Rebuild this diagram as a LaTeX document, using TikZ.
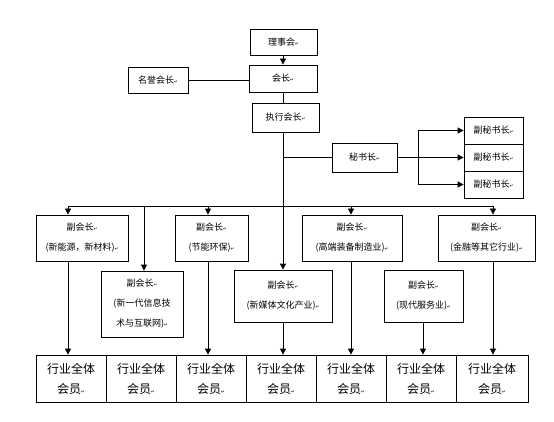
\documentclass[tikz,border=0pt]{standalone}
\usepackage{fontspec}
\setmainfont{Noto Sans CJK SC}
\newfontfamily\cjk{Noto Sans CJK SC}
\newfontfamily\dejavu{DejaVu Sans}
\usetikzlibrary{arrows.meta}
\newcommand\parmark{{\dejavu\fontsize{4.5}{5}\selectfont ↵}}
\tikzset{
  bx/.style={draw, line width=0.8pt, inner sep=0pt, align=center,
    font=\cjk\fontsize{9}{20}\selectfont},
  mem/.style={bx, minimum height=47pt, font=\cjk\fontsize{12}{20}\selectfont},
  arr/.style={line width=0.8pt, -{Triangle[width=6pt,length=6pt]}},
  ln/.style={line width=0.8pt}
}
\begin{document}
\begin{tikzpicture}[x=1pt,y=-1pt]
\useasboundingbox (0,0) rectangle (554,422);
% top chain
\node[bx, minimum width=67pt, minimum height=26pt] (ls) at (283.5,42) {理事会\parmark};
\node[bx, minimum width=68pt, minimum height=27pt] (hz) at (283,78.5) {会长\parmark};
\node[bx, minimum width=67pt, minimum height=29pt] (zx) at (285.5,117.5) {执行会长\parmark};
\node[bx, minimum width=60pt, minimum height=26pt] (my) at (158,80) {名誉会长\parmark};
\node[bx, minimum width=65pt, minimum height=29pt] (ms) at (364.5,157.5) {秘书长\parmark};
\node[bx, minimum width=59pt, minimum height=27pt] (f1) at (493.5,130.5) {副秘书长\parmark};
\node[bx, minimum width=59pt, minimum height=27pt] (f2) at (493.5,157.5) {副秘书长\parmark};
\node[bx, minimum width=59pt, minimum height=27pt] (f3) at (493.5,184.5) {副秘书长\parmark};
% vice presidents, upper row
\node[bx, minimum width=92pt, minimum height=46pt] (v1) at (82,238) {副会长\parmark\\(新能源，新材料)\parmark};
\node[bx, minimum width=73pt, minimum height=46pt] (v3) at (211.5,238) {副会长\parmark\\(节能环保)\parmark};
\node[bx, minimum width=100pt, minimum height=46pt] (v5) at (352,238) {副会长\parmark\\(高端装备制造业)\parmark};
\node[bx, minimum width=97pt, minimum height=46pt] (v7) at (486.5,238) {副会长\parmark\\(金融等其它行业)\parmark};
% vice presidents, lower row
\node[bx, minimum width=82pt, minimum height=66pt] (v2) at (142,304) {副会长\parmark\\(新一代信息技\\术与互联网)\parmark};
\node[bx, minimum width=98pt, minimum height=52pt] (v4) at (283,296) {副会长\parmark\\(新媒体文化产业)\parmark};
\node[bx, minimum width=79pt, minimum height=52pt] (v6) at (423.5,296) {副会长\parmark\\(现代服务业)\parmark};
% members
\foreach \i/\x/\w in {1/71/70,2/141/70,3/211/70,4/281/70,5/351/70,6/421/70,7/492/72}{
  \node[mem, minimum width=\w pt] (m\i) at (\x,378.5) {行业全体\\会员\parmark};
}
% coordinates
\coordinate (t) at (283,0);
\coordinate (sp) at (418,157.5);
\coordinate (b1) at (68,206);
\coordinate (b2) at (144,206);
\coordinate (b3) at (208,206);
\coordinate (b4) at (283,206);
\coordinate (b5) at (351,206);
\coordinate (b6) at (423,206);
\coordinate (b7) at (493,206);
% connectors
\draw[arr] (t |- ls.south) -- (t |- hz.north);
\draw[ln] (my.east) -- (hz.west |- my.east);
\draw[ln] (t |- hz.south) -- (t |- zx.north);
\draw[arr] (t |- zx.south) -- (t |- v4.north);
\draw[ln] (t |- ms.west) -- (ms.west);
\draw[ln] (ms.east) -- (sp);
\draw[ln] (sp |- f1.west) -- (sp |- f3.west);
\draw[arr] (sp |- f1.west) -- (f1.west);
\draw[arr] (sp) -- (f2.west);
\draw[arr] (sp |- f3.west) -- (f3.west);
\draw[ln] (b1) -- (b7);
\draw[arr] (b1) -- (b1 |- v1.north);
\draw[arr] (b2) -- (b2 |- v2.north);
\draw[arr] (b3) -- (b3 |- v3.north);
\draw[arr] (b5) -- (b5 |- v5.north);
\draw[arr] (b7) -- (b7 |- v7.north);
\draw[arr] (b1 |- v1.south) -- (b1 |- m1.north);
\draw[arr] (b3 |- v3.south) -- (b3 |- m3.north);
\draw[arr] (b4 |- v4.south) -- (b4 |- m4.north);
\draw[arr] (b5 |- v5.south) -- (b5 |- m5.north);
\draw[arr] (b6 |- v6.south) -- (b6 |- m6.north);
\draw[arr] (b7 |- v7.south) -- (b7 |- m7.north);
\end{tikzpicture}
\end{document}
